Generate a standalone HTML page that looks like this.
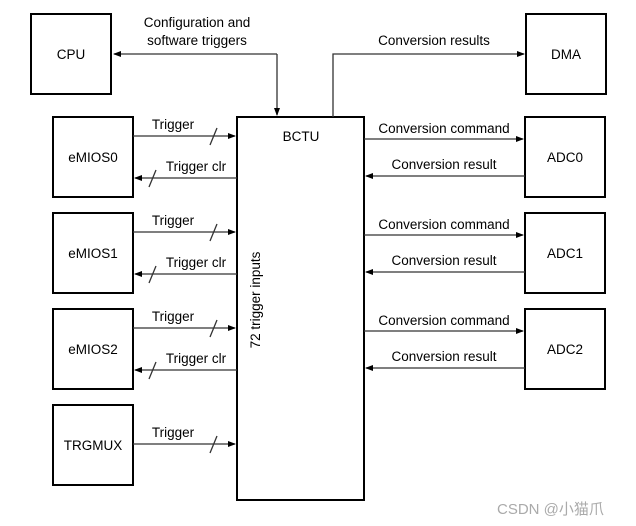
<!DOCTYPE html>
<html><head><meta charset="utf-8"><style>
body{margin:0;background:#fff}
svg text{font-family:"Liberation Sans",Arial,sans-serif;font-size:13.5px;fill:#000}
</style></head><body>
<svg width="636" height="521" viewBox="0 0 636 521" xmlns="http://www.w3.org/2000/svg">
<defs><marker id="a" markerWidth="8" markerHeight="6" refX="7" refY="3" orient="auto" markerUnits="userSpaceOnUse"><path d="M0,0 L8,3 L0,6z" fill="#000"/></marker></defs>
<g fill="none" stroke="#000" stroke-width="2">
<rect x="31" y="14" width="80" height="80"/>
<rect x="526" y="14" width="80" height="80"/>
<rect x="53" y="117" width="80" height="80"/>
<rect x="53" y="213" width="80" height="80"/>
<rect x="53" y="309" width="80" height="80"/>
<rect x="53" y="405" width="80" height="80"/>
<rect x="237" y="117" width="127" height="383"/>
<rect x="525" y="117" width="80" height="80"/>
<rect x="525" y="213" width="80" height="80"/>
<rect x="525" y="309" width="80" height="80"/>
</g>
<g stroke="#333" stroke-width="1.3" fill="none">
<path d="M277,54 H114" marker-end="url(#a)"/>
<path d="M277,54 V115" marker-end="url(#a)"/>
<path d="M333,117 V54 H524" marker-end="url(#a)"/>
<path d="M133,136 H235" marker-end="url(#a)"/><path d="M133,232 H235" marker-end="url(#a)"/><path d="M133,328 H235" marker-end="url(#a)"/><path d="M133,444 H235" marker-end="url(#a)"/>
<path d="M237,178 H135" marker-end="url(#a)"/><path d="M237,274 H135" marker-end="url(#a)"/><path d="M237,370 H135" marker-end="url(#a)"/>
<path d="M364,139 H523" marker-end="url(#a)"/><path d="M364,235 H523" marker-end="url(#a)"/><path d="M364,331 H523" marker-end="url(#a)"/>
<path d="M525,176 H366" marker-end="url(#a)"/><path d="M525,272 H366" marker-end="url(#a)"/><path d="M525,368 H366" marker-end="url(#a)"/>
<path d="M210,145 L217,128 M210,241 L217,224 M210,337 L217,320 M210,453 L217,436 M149,187 L156,170 M149,283 L156,266 M149,379 L156,362"/>
</g>
<g text-anchor="middle">
<text x="71" y="59">CPU</text><text x="566" y="59">DMA</text>
<text x="93" y="162">eMIOS0</text><text x="93" y="258">eMIOS1</text><text x="93" y="354">eMIOS2</text><text x="93" y="450">TRGMUX</text>
<text x="565" y="162">ADC0</text><text x="565" y="258">ADC1</text><text x="565" y="354">ADC2</text>
<text x="301" y="141">BCTU</text>
<text x="197" y="27">Configuration and</text><text x="197" y="45">software triggers</text>
<text x="434" y="45">Conversion results</text>
<text x="173" y="129">Trigger</text><text x="173" y="225">Trigger</text><text x="173" y="321">Trigger</text><text x="173" y="437">Trigger</text>
<text x="196" y="171">Trigger clr</text><text x="196" y="267">Trigger clr</text><text x="196" y="363">Trigger clr</text>
<text x="444" y="133">Conversion command</text><text x="444" y="229">Conversion command</text><text x="444" y="325">Conversion command</text>
<text x="444" y="169">Conversion result</text><text x="444" y="265">Conversion result</text><text x="444" y="361">Conversion result</text>
<text transform="translate(260,300) rotate(-90)">72 trigger inputs</text>
</g>
<text x="497" y="514" style="font-family:'Liberation Sans','Noto Sans CJK SC',sans-serif;font-size:15px;fill:#aaa">CSDN @小猫爪</text>
</svg>
</body></html>
